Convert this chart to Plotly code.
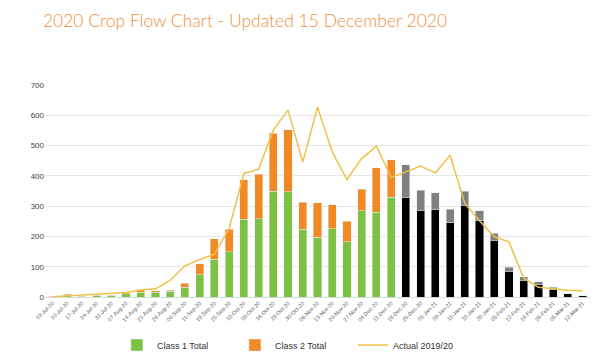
import plotly.graph_objects as go

weeks = ["03-Jul-20", "10-Jul-20", "17-Jul-20", "24-Jul-20", "31-Jul-20", "07-Aug-20", "14-Aug-20",
         "21-Aug-20", "28-Aug-20", "04-Sep-20", "11-Sep-20", "18-Sep-20", "25-Sep-20", "02-Oct-20",
         "09-Oct-20", "16-Oct-20", "23-Oct-20", "30-Oct-20", "06-Nov-20", "13-Nov-20", "20-Nov-20",
         "27-Nov-20", "04-Dec-20", "11-Dec-20", "18-Dec-20", "25-Dec-20", "01-Jan-21", "08-Jan-21",
         "15-Jan-21", "22-Jan-21", "29-Jan-21", "05-Feb-21", "12-Feb-21", "19-Feb-21", "26-Feb-21",
         "05-Mar-21", "12-Mar-21"]

class1 = [1, 6, 3, 4, 4, 10, 16, 15, 19, 33, 73, 124, 150, 256, 258, 349, 347, 224, 198, 226, 182,
          285, 280, 329] + [None] * 13
class2 = [1, 3, 1, 1, 2, 4, 7, 6, 4, 13, 36, 69, 74, 131, 147, 192, 206, 89, 113, 78, 68,
          70, 147, 124] + [None] * 13
forecast1 = [None] * 24 + [329, 285, 288, 246, 303, 252, 188, 85, 55, 40, 25, 10, 4]
forecast2 = [None] * 24 + [107, 67, 57, 43, 46, 33, 22, 13, 12, 11, 8, 0, 0]
actual = [1, 4, 5, 9, 13, 15, 23, 27, 55, 103, 124, 141, 226, 408, 422, 551, 617, 446, 627, 479,
          388, 457, 499, 395, 413, 432, 410, 468, 309, 252, 199, 182, 62, 32, 27, 22, 21]

fig = go.Figure()
fig.add_trace(go.Bar(x=weeks, y=class1, name="Class 1 Total", marker_color="#7DC143"))
fig.add_trace(go.Bar(x=weeks, y=class2, name="Class 2 Total", marker_color="#F28A24"))
fig.add_trace(go.Bar(x=weeks, y=forecast1, name="Forecast Class 1", marker_color="#000000",
                     showlegend=False))
fig.add_trace(go.Bar(x=weeks, y=forecast2, name="Forecast Class 2", marker_color="#808080",
                     showlegend=False))
fig.add_trace(go.Scatter(x=weeks, y=actual, name="Actual 2019/20", mode="lines",
                         line=dict(color="#EFC148", width=1.5)))

# page has an 8px default body margin, so the figure is 592x353 and margins compensate
fig.update_layout(
    width=592, height=353,
    barmode="stack", bargap=0.45,
    plot_bgcolor="white", paper_bgcolor="white",
    margin=dict(l=37, r=10, t=77, b=64),
    font=dict(family="Liberation Sans, Arial, sans-serif", color="#404040"),
    title=dict(text="2020 Crop Flow Chart - Updated 15 December 2020",
               font=dict(family="Lato, Open Sans, sans-serif", size=17.5, color="#EE8F3A",
                         weight=300),
               x=0.059, xanchor="left", y=0.963, yanchor="middle"),
    showlegend=True,
    legend=dict(orientation="h", xref="container", yref="container",
                x=0.184, xanchor="left", y=0.045, yanchor="middle",
                font=dict(size=9, color="#333333"), entrywidth=73, itemwidth=30,
                traceorder="normal"),
    xaxis=dict(tickangle=-45, tickfont=dict(size=5.5, color="#595959"), showgrid=False,
               showline=True, linecolor="#D9D9D9", ticks="", type="category",
               automargin=False),
    yaxis=dict(range=[0, 700], dtick=100, tickfont=dict(size=8, color="#404040"),
               gridcolor="#E6E6E6", gridwidth=1, zeroline=False, ticks="",
               automargin=False),
)

fig.write_html("out.html")
